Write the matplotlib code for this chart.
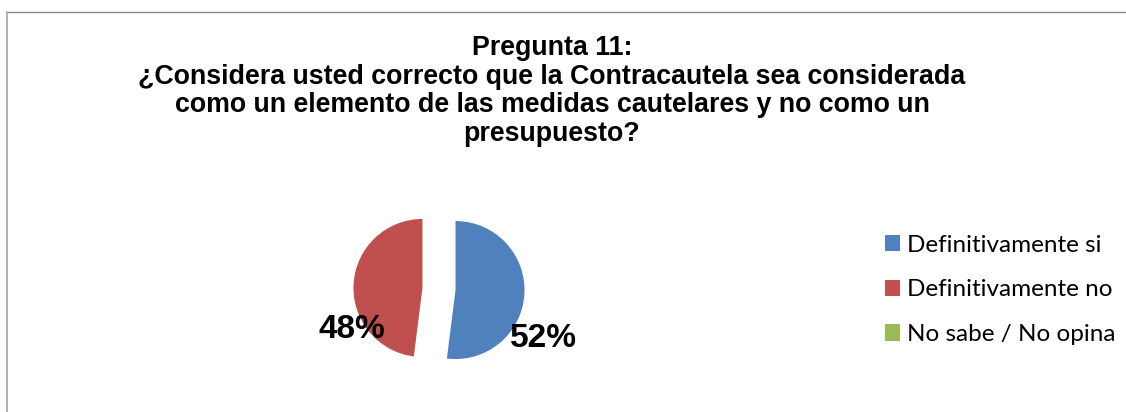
import matplotlib
matplotlib.use('Agg')
import matplotlib.pyplot as plt
from matplotlib.patches import Patch
from matplotlib.lines import Line2D

plt.rcParams['font.family'] = ['Liberation Sans', 'DejaVu Sans']

# Data
categories = ['Definitivamente si', 'Definitivamente no', 'No sabe / No opina']
values = [52, 48, 0]
colors = ['#4F81BD', '#C0504D', '#9BBB59']
title_lines = ['Pregunta 11:',
               '¿Considera usted correcto que la Contracautela sea considerada',
               'como un elemento de las medidas cautelares y no como un',
               'presupuesto?']

W, H = 1126, 412
fig = plt.figure(figsize=(W / 100, H / 100), dpi=100)

# pie axes: centre (439, 289) px, radius 69 px, data range -2..2
r = 69
cx, cy = 439, 289
ax = fig.add_axes([(cx - 2 * r) / W, (H - cy - 2 * r) / H, 4 * r / W, 4 * r / H])
shown = [v for v in values if v > 0]
wedges, _ = ax.pie(shown, colors=colors[:len(shown)], startangle=90, counterclock=False,
                   explode=[0.24] * len(shown), radius=1,
                   wedgeprops=dict(linewidth=0))
ax.set_xlim(-2, 2)
ax.set_ylim(-2, 2)
ax.set_aspect('auto')
ax.axis('off')

# percentage labels
ax.text(1.51, -0.72, f'{values[0]}%', ha='center', va='center',
        fontsize=24, fontweight='bold')
ax.text(-1.26, -0.59, f'{values[1]}%', ha='center', va='center',
        fontsize=24, fontweight='bold')

# title
baselines = [55, 84, 112, 141]
for line, b in zip(title_lines, baselines):
    fig.text(552 / W, 1 - b / H, line, ha='center', va='baseline',
             fontsize=19.3, fontweight='bold')

# legend
handles = [Patch(facecolor=c, edgecolor='none') for c in colors]
fig.legend(handles, categories, loc='center left',
           bbox_to_anchor=(863 / W, 1 - 290 / H), frameon=False,
           prop={'family': 'Lato', 'size': 17.5},
           handlelength=0.62, handleheight=0.65, handletextpad=0.3,
           labelspacing=0.97)

# chart frame (top and left edges visible)
fig.add_artist(Line2D([7.5 / W, 1], [1 - 11.5 / H, 1 - 11.5 / H],
                      transform=fig.transFigure, color='#8C8C8C', lw=1))
fig.add_artist(Line2D([7.5 / W, 7.5 / W], [0, 1 - 11.5 / H],
                      transform=fig.transFigure, color='#A6A6A6', lw=1.2))

fig.savefig('out.png', dpi=100)
